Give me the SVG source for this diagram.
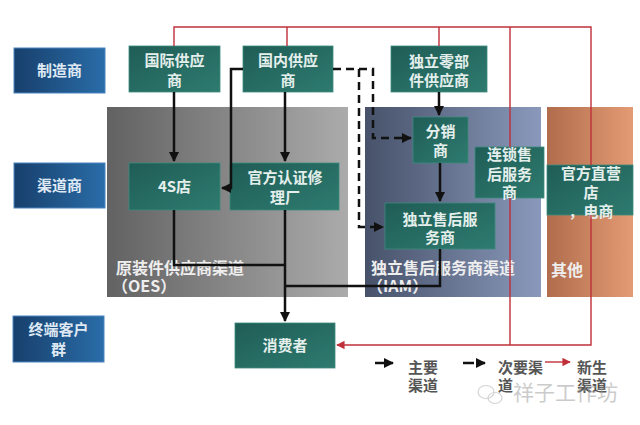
<svg xmlns="http://www.w3.org/2000/svg" width="640" height="425" viewBox="0 0 640 425">
<defs>
<linearGradient id="gBlue" x1="0" y1="0" x2="1" y2="0"><stop offset="0" stop-color="#173f6c"/><stop offset="1" stop-color="#2a6da8"/></linearGradient>
<linearGradient id="gTeal" x1="0" y1="0" x2="1" y2="1"><stop offset="0" stop-color="#1f5d56"/><stop offset="1" stop-color="#2e7b70"/></linearGradient>
<linearGradient id="gGrey" x1="0" y1="0" x2="1" y2="0"><stop offset="0" stop-color="#626262"/><stop offset="1" stop-color="#ababab"/></linearGradient>
<linearGradient id="gIam" x1="0" y1="0" x2="1" y2="0"><stop offset="0" stop-color="#47526a"/><stop offset="1" stop-color="#8a99bb"/></linearGradient>
<linearGradient id="gOrg" x1="0" y1="0" x2="1" y2="0"><stop offset="0" stop-color="#b06c4c"/><stop offset="1" stop-color="#e39b74"/></linearGradient>
<marker id="ab" viewBox="0 0 10 10" refX="9" refY="5" markerWidth="4" markerHeight="4" orient="auto" markerUnits="strokeWidth"><path d="M0,0 L10,5 L0,10 z" fill="#111"/></marker>
<marker id="ar" viewBox="0 0 10 10" refX="9" refY="5" markerWidth="6" markerHeight="6" orient="auto" markerUnits="strokeWidth"><path d="M0,0 L10,5 L0,10 z" fill="#c0303a"/></marker>
<style>
.lbl{fill:url(#gBlue);stroke:#4a86c0;stroke-width:1}
.nd{fill:url(#gTeal);stroke:#3c8a7e;stroke-width:0.8}
.t{font-family:"Noto Sans CJK SC","Noto Sans",sans-serif;font-size:15px;font-weight:bold;fill:#e4efec;text-anchor:middle}
.tl{font-family:"Noto Sans CJK SC","Noto Sans",sans-serif;font-size:15px;font-weight:bold;fill:#dfe9f4;text-anchor:middle}
.pt{font-family:"Noto Sans CJK SC","Noto Sans",sans-serif;font-size:16px;font-weight:bold;fill:#eeeeee}
.lg{font-family:"Noto Sans CJK SC","Noto Sans",sans-serif;font-size:15px;font-weight:bold;fill:#555}
.blk{fill:none;stroke:#111;stroke-width:2.5}
.dsh{fill:none;stroke:#111;stroke-width:2.5;stroke-dasharray:8,5}
.red{fill:none;stroke:#c0303a;stroke-width:1.4}
</style>
</defs>
<rect width="640" height="425" fill="#ffffff"/>

<g id="panels">
<rect x="107" y="107" width="241" height="190" fill="url(#gGrey)"/>
<rect x="365" y="107" width="176" height="190" fill="url(#gIam)"/>
<rect x="547" y="107" width="86" height="190" fill="url(#gOrg)"/>
<text class="pt" x="116" y="274">原装件供应商渠道</text>
<text class="pt" x="112" y="292">（OES）</text>
<text class="pt" x="371" y="274">独立售后服务商渠道</text>
<text class="pt" x="367" y="292">（IAM）</text>
<text class="pt" x="551" y="276">其他</text>
</g>

<g id="label-mfr"><rect class="lbl" x="14" y="48" width="91" height="45"/><text class="tl" x="59.5" y="76">制造商</text></g>
<g id="label-channel"><rect class="lbl" x="14" y="163" width="91" height="45"/><text class="tl" x="59.5" y="191">渠道商</text></g>
<g id="label-end"><rect class="lbl" x="13" y="316" width="91" height="46"/><text class="tl" x="58.5" y="335">终端客户</text><text class="tl" x="58.5" y="355">群</text></g>

<g id="n-intl"><rect class="nd" x="129" y="46" width="91" height="46"/><text class="t" x="174.5" y="66">国际供应</text><text class="t" x="174.5" y="86">商</text></g>
<g id="n-dom"><rect class="nd" x="243" y="46" width="90" height="46"/><text class="t" x="288" y="66">国内供应</text><text class="t" x="288" y="86">商</text></g>
<g id="n-indep-parts"><rect class="nd" x="391" y="46" width="96" height="46"/><text class="t" x="439" y="67">独立零部</text><text class="t" x="439" y="86">件供应商</text></g>
<g id="n-4s"><rect class="nd" x="129" y="163" width="91" height="47"/><text class="t" x="174.5" y="192">4S店</text></g>
<g id="n-official"><rect class="nd" x="230" y="163" width="109" height="47"/><text class="t" x="285" y="183">官方认证修</text><text class="t" x="285" y="203">理厂</text></g>
<g id="n-dist"><rect class="nd" x="413" y="117" width="55" height="46"/><text class="t" x="440.5" y="137">分销</text><text class="t" x="440.5" y="156">商</text></g>
<g id="n-chain"><rect class="nd" x="475" y="147" width="69" height="51"/><text class="t" x="509.5" y="160">连锁售</text><text class="t" x="509.5" y="180">后服务</text><text class="t" x="509.5" y="198">商</text></g>
<g id="n-direct"><rect class="nd" x="547" y="165" width="86" height="50"/><text class="t" x="591" y="179">官方直营</text><text class="t" x="591" y="198">店</text><text class="t" x="591" y="217">，电商</text></g>
<g id="n-iam"><rect class="nd" x="385" y="203" width="110" height="46"/><text class="t" x="440" y="225">独立售后服</text><text class="t" x="440" y="243">务商</text></g>
<g id="n-consumer"><rect class="nd" x="235" y="323" width="100" height="45"/><text class="t" x="285" y="351">消费者</text></g>

<g id="connectors">
<path class="red" d="M174,46 V27 H591 V165 M591,215 V345 H337" marker-end="url(#ar)"/>
<path class="red" d="M287,27 V46 M439,27 V46 M510,27 V147 M510,198 V345"/>
<path class="blk" d="M174,92 V161" marker-end="url(#ab)"/>
<path class="blk" d="M285,92 V161" marker-end="url(#ab)"/>
<path class="blk" d="M243,69 H231 V188 H222" marker-end="url(#ab)"/>
<path class="blk" d="M439,92 V115" marker-end="url(#ab)"/>
<path class="blk" d="M440,163 V201" marker-end="url(#ab)"/>
<path class="blk" d="M174,210 V265 H285"/>
<path class="blk" d="M440,249 V286 H285"/>
<path class="blk" d="M285,210 V321" marker-end="url(#ab)"/>
<path class="dsh" d="M333,69 H359 V227 H383" marker-end="url(#ab)"/>
<path class="dsh" d="M359,69 H373 V138 H411" marker-end="url(#ab)"/>
</g>

<g id="legend">
<path class="blk" d="M375,363 H393" marker-end="url(#ab)"/>
<text class="lg" x="408" y="373">主要</text><text class="lg" x="408" y="391">渠道</text>
<path class="blk" d="M463,363 H474 M478,363 H485" marker-end="url(#ab)"/>
<text class="lg" x="498" y="373">次要渠</text><text class="lg" x="498" y="391">道</text>
<path class="red" d="M545,362 H570" marker-end="url(#ar)"/>
<text class="lg" x="577" y="373">新生</text><text class="lg" x="577" y="391">渠道</text>
</g>

<g id="watermark" opacity="0.5">
<ellipse cx="486" cy="392" rx="8" ry="6.5" fill="none" stroke="#aaa" stroke-width="1.2"/>
<ellipse cx="495" cy="398" rx="7" ry="5.5" fill="none" stroke="#aaa" stroke-width="1.2"/>
<text x="513" y="400" font-family="'Noto Sans CJK SC',sans-serif" font-size="21" fill="#999">祥子工作坊</text>
</g>
</svg>
